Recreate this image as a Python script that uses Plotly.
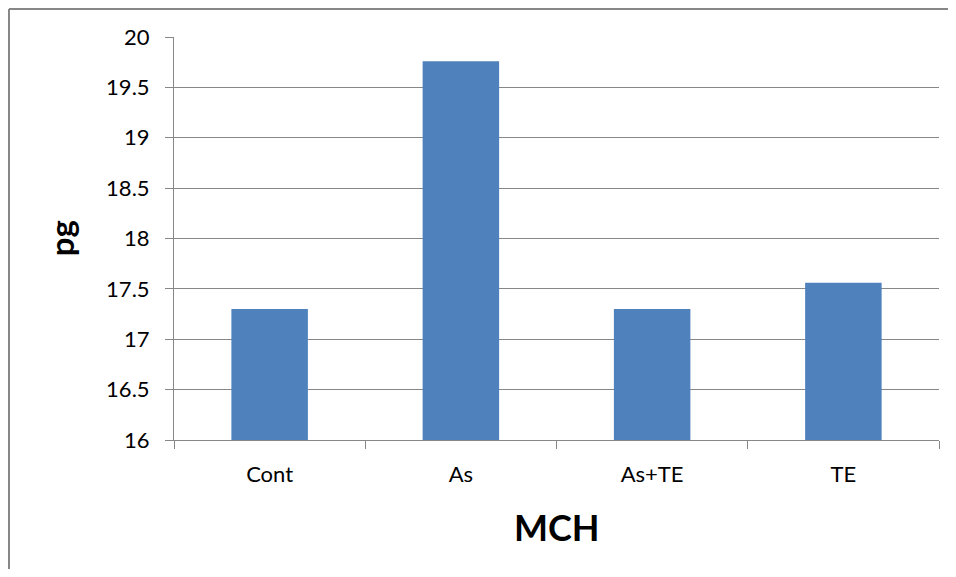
import plotly.graph_objects as go

categories = ["Cont", "As", "As+TE", "TE"]
values = [17.3, 19.76, 17.3, 17.56]
y_title = "pg"
x_title = "MCH"
y_min = 16

grey = "#878787"
font_fam = "Lato, Open Sans, sans-serif"
fig = go.Figure(go.Bar(x=categories, y=[v - y_min for v in values], base=y_min,
                       marker=dict(color="#4F81BD", line=dict(width=0)), width=0.4))

fig.update_layout(
    width=940, height=561,
    margin=dict(l=166, r=9, t=29, b=129),
    paper_bgcolor="white", plot_bgcolor="white",
    font=dict(family=font_fam, size=22, color="black"),
    showlegend=False,
)
fig.update_yaxes(range=[16, 20], dtick=0.5, tick0=16, showgrid=True, gridcolor=grey, gridwidth=1,
                 showline=True, linecolor=grey, linewidth=1, ticks="outside", ticklen=8,
                 tickcolor=grey, zeroline=False, ticklabelstandoff=11)
fig.update_xaxes(tickson="boundaries", ticks="outside", ticklen=8, tickcolor=grey,
                 showline=True, linecolor=grey, linewidth=1, showgrid=False,
                 ticklabelstandoff=15)
fig.add_annotation(text="<b>" + y_title + "</b>", xref="paper", yref="paper", x=-0.148, y=0.5,
                   textangle=-90, showarrow=False, font=dict(size=33, family=font_fam),
                   xanchor="center", yanchor="middle")
fig.add_annotation(text="<b>" + x_title + "</b>", xref="paper", yref="paper", x=0.5, y=-0.216,
                   showarrow=False, font=dict(size=36, family=font_fam),
                   xanchor="center", yanchor="middle")
# outer chart border (top and left edges visible in the reference)
fig.add_shape(type="line", xref="paper", yref="paper", x0=-0.2157, x1=1.1, y0=1.0695, y1=1.0695,
              line=dict(color=grey, width=2), layer="below")
fig.add_shape(type="line", xref="paper", yref="paper", x0=-0.2157, x1=-0.2157, y0=-0.5, y1=1.0695,
              line=dict(color=grey, width=2), layer="below")
fig.write_html("out.html")
